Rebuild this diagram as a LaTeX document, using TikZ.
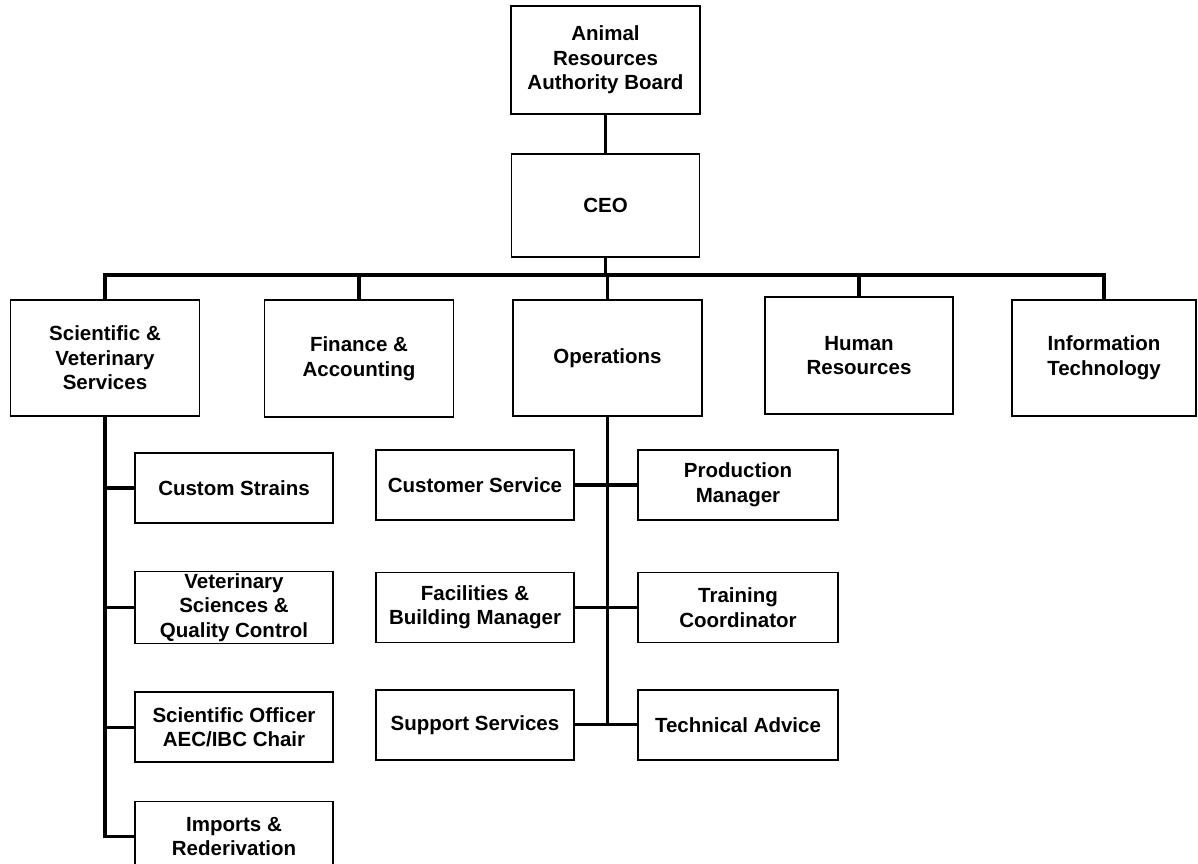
\documentclass[tikz,border=0pt]{standalone}
\usepackage{fontspec}
\setmainfont{Liberation Sans}
\usepackage{tikz}
\usetikzlibrary{positioning}
\tikzset{
  every picture/.append style={line width=1.4pt},
  every node/.append style={font=\bfseries\fontsize{20.5}{24.6}\selectfont},
}

\begin{document}
\begin{tikzpicture}[
    x=1pt, y=1pt,
    node distance=47pt,
    unit/.style={rectangle, draw, line width=1.4pt, minimum width=198pt, minimum height=70pt, align=center, inner sep=2pt},
    head/.style={unit, minimum width=189pt, minimum height=116pt},
    link/.style={line width=3.2pt}
]
\useasboundingbox (0,0) rectangle (1198,-863);

% top of the chart
\node[unit, minimum width=189pt, minimum height=108pt] (board) at (605.5,-60) {Animal\\Resources\\Authority Board};
\node[unit, minimum width=188pt, minimum height=103pt] (ceo) at (605.5,-205.5) {CEO};
\coordinate (bus) at (605.5,-275);

% departments
\node[head] (sci) at (105,-358) {Scientific \&\\Veterinary\\Services};
\node[head, minimum height=117pt] (fin) at (359,-358.5) {Finance \&\\Accounting};
\node[head] (ops) at (607.5,-358) {Operations};
\node[head, minimum width=188pt, minimum height=117pt] (hr) at (859,-355.5) {Human\\Resources};
\node[head, minimum width=184pt] (it) at (1104,-358) {Information\\Technology};

% scientific & veterinary units
\node[unit] (cs) at (234,-488) {Custom Strains};
\node[unit, below=of cs] (vsq) {Veterinary\\Sciences \&\\Quality Control};
\node[unit, below=of vsq] (sco) {Scientific Officer\\AEC/IBC Chair};
\node[unit, below=38pt of sco] (imp) {Imports \&\\Rederivation};

% operations units
\node[unit] (cust) at (475,-485) {Customer Service};
\node[unit, below=51pt of cust] (fac) {Facilities \&\\Building Manager};
\node[unit, below=46pt of fac] (sup) {Support Services};
\node[unit, minimum width=200pt] (prod) at (738,-485) {Production\\Manager};
\node[unit, minimum width=200pt, below=51pt of prod] (trn) {Training\\Coordinator};
\node[unit, minimum width=200pt, below=46pt of trn] (tec) {Technical Advice};

\draw[link] (board) -- (ceo);
\draw[link] (ceo) -- (bus);
\draw[link] (sci) |- (bus) -| (it);
\foreach \n in {fin,ops,hr}
  \draw[link] (\n) -- (\n |- bus);

\draw[link] (sci) |- (imp);
\foreach \n in {cs,vsq,sco}
  \draw[link] (sci |- \n) -- (\n);

\draw[link] (ops) -- (ops |- sup);
\foreach \a/\b in {cust/prod,fac/trn,sup/tec}
  \draw[link] (\a) -- (\b);
\end{tikzpicture}
\end{document}
